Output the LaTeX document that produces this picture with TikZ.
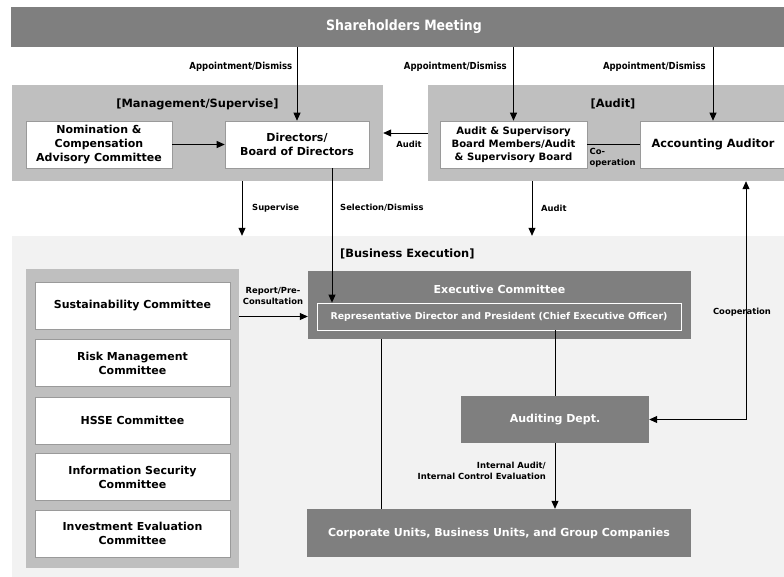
\documentclass[tikz,border=0pt]{standalone}
\usepackage{fontspec}
\setmainfont{DejaVu Sans}
\newfontfamily\narrowfont[FakeStretch=0.88]{DejaVu Sans}
\usetikzlibrary{arrows.meta}
\definecolor{darkgrey}{HTML}{7F7F7F}
\definecolor{midgrey}{HTML}{BFBFBF}
\definecolor{palegrey}{HTML}{F2F2F2}
\definecolor{edgegrey}{HTML}{9A9A9A}
\begin{document}
\begin{tikzpicture}[x=1pt,y=-1pt,
  area/.style={fill=midgrey, draw=none, inner sep=0pt},
  whitebox/.style={fill=white, draw=edgegrey, line width=0.6pt, align=center,
    font=\bfseries\fontsize{11}{14}\selectfont, inner sep=0pt},
  darkbox/.style={fill=darkgrey, draw=none, text=white, align=center,
    font=\bfseries\fontsize{11}{14}\selectfont, inner sep=0pt},
  areatitle/.style={font=\bfseries\fontsize{11.4}{13}\selectfont, inner sep=0pt},
  lbl/.style={font=\bfseries\fontsize{8.4}{11}\selectfont, align=center, inner sep=0pt},
  applbl/.style={font=\narrowfont\bfseries\fontsize{9.7}{11}\selectfont, inner sep=0pt},
  conn/.style={draw=black, line width=0.8pt},
  arr/.style={conn, -{Triangle[length=8pt,width=7pt]}},
  dblarr/.style={conn, {Triangle[length=8pt,width=7pt]}-{Triangle[length=8pt,width=7pt]}}
]
\useasboundingbox (0,0) rectangle (784,576);

% Shareholders meeting band
\node[darkbox, minimum width=786pt, minimum height=40pt,
  font=\narrowfont\bfseries\fontsize{14.2}{16}\selectfont] (top) at (404,26.5) {Shareholders Meeting};

% Management / supervision group
\node[area, minimum width=371pt, minimum height=96pt] (mgmt) at (197.5,133) {};
\node[areatitle] (mgmttitle) at (197.5,104) {[Management/Supervise]};
\node[whitebox, minimum width=146pt, minimum height=47pt] (nom) at (99,144.5)
  {Nomination \&\\Compensation\\Advisory Committee};
\node[whitebox, minimum width=144pt, minimum height=47pt] (dir) at (297,144.5)
  {Directors/\\Board of Directors};

% Audit group
\node[area, minimum width=370pt, minimum height=96pt] (auditarea) at (613,133) {};
\node[areatitle] (audittitle) at (613,104) {[Audit]};
\node[whitebox, minimum width=147pt, minimum height=47pt, font=\bfseries\fontsize{10.1}{12.8}\selectfont] (audsup) at (513.5,144.5)
  {Audit \& Supervisory\\Board Members/Audit\\\& Supervisory Board};
\node[whitebox, minimum width=146pt, minimum height=47pt, font=\bfseries\fontsize{11.3}{13}\selectfont] (acct) at (713,144.5)
  {Accounting Auditor};

% Business execution area
\node[fill=palegrey, draw=none, minimum width=790pt, minimum height=341pt, inner sep=0pt] (biz) at (407,406.5) {};
\node[areatitle, anchor=west] (biztitle) at (340,254) {[Business Execution]};

% Committees column
\node[area, minimum width=213pt, minimum height=299pt] (comm) at (132.5,418.5) {};
\node[whitebox, minimum width=195pt, minimum height=47pt] (sus) at (132.5,305.5) {Sustainability Committee};
\node[whitebox, minimum width=195pt, minimum height=47pt] (risk) at (132.5,363) {Risk Management\\Committee};
\node[whitebox, minimum width=195pt, minimum height=47pt] (hsse) at (132.5,420.5) {HSSE Committee};
\node[whitebox, minimum width=195pt, minimum height=47pt] (infosec) at (132.5,477) {Information Security\\Committee};
\node[whitebox, minimum width=195pt, minimum height=47pt] (invest) at (132.5,533.5) {Investment Evaluation\\Committee};

% Executive bodies
\node[darkbox, minimum width=383pt, minimum height=68pt] (exec) at (499.5,305) {};
\node[text=white, font=\bfseries\fontsize{11}{13}\selectfont, inner sep=0pt] (exectitle) at (499.5,289) {Executive Committee};
\node[draw=white, line width=0.8pt, fill=darkgrey, text=white, minimum width=364pt, minimum height=27pt,
  inner sep=0pt, font=\bfseries\fontsize{9.4}{11}\selectfont] (rep) at (499,316.5)
  {Representative Director and President (Chief Executive Officer)};
\node[darkbox, minimum width=188pt, minimum height=47pt, font=\bfseries\fontsize{11}{13}\selectfont] (aud) at (555,419.5) {Auditing Dept.};
\node[darkbox, minimum width=384pt, minimum height=48pt] (corp) at (499,533)
  {Corporate Units, Business Units, and Group Companies};

% Helper columns for vertical connectors
\coordinate (supx) at (242,0);
\coordinate (selx) at (332,0);
\coordinate (audx) at (532,0);
\coordinate (coopx) at (746,0);
\coordinate (leftx) at (381,0);
\coordinate (rightx) at (555,0);

% Appointment / dismissal from the shareholders meeting
\draw[arr] (top.south -| dir.north) -- (dir.north);
\draw[arr] (top.south -| audsup.north) -- (audsup.north);
\draw[arr] (top.south -| acct.north) -- (acct.north);
\node[applbl, anchor=east] (app1) at (292.5,66.5) {Appointment/Dismiss};
\node[applbl, anchor=east] (app2) at (507,66.5) {Appointment/Dismiss};
\node[applbl, anchor=east] (app3) at (706,66.5) {Appointment/Dismiss};

% Inside the upper groups
\draw[arr] (nom.east) -- (dir.west);
\draw[arr] (auditarea.west) -- (mgmt.east);
\node[lbl] (auditlbl1) at (409,144) {Audit};
\draw[conn] (audsup.east) -- (acct.west);
\node[lbl, align=left, anchor=west] (coop1) at (589.5,157.5) {Co-\\operation};

% Down into business execution
\draw[arr] (mgmt.south -| supx) -- (biz.north -| supx);
\node[lbl, anchor=west] (suplbl) at (252,208) {Supervise};
\draw[arr] (dir.south -| selx) -- (rep.north -| selx);
\node[lbl, anchor=west] (sellbl) at (340,208) {Selection/Dismiss};
\draw[arr] (auditarea.south -| audx) -- (biz.north -| audx);
\node[lbl, anchor=west] (auditlbl2) at (541,208) {Audit};

% Accounting auditor <-> auditing department
\draw[dblarr] (auditarea.south -| coopx) |- (aud.east);
\node[lbl] (cooplbl) at (742,312) {Cooperation};

% Committees report to the executive committee
\draw[arr] (comm.east |- rep.west) -- (exec.west |- rep.west);
\node[lbl] (replbl) at (273,296) {Report/Pre-\\Consultation};

% Execution lines
\draw[conn] (exec.south -| leftx) -- (corp.north -| leftx);
\draw[conn] (rep.south -| rightx) -- (aud.north -| rightx);
\draw[arr] (aud.south) -- (corp.north -| aud.south);
\node[lbl, align=right, anchor=east] (intlbl) at (546,470.5) {Internal Audit/\\Internal Control Evaluation};

\end{tikzpicture}
\end{document}
